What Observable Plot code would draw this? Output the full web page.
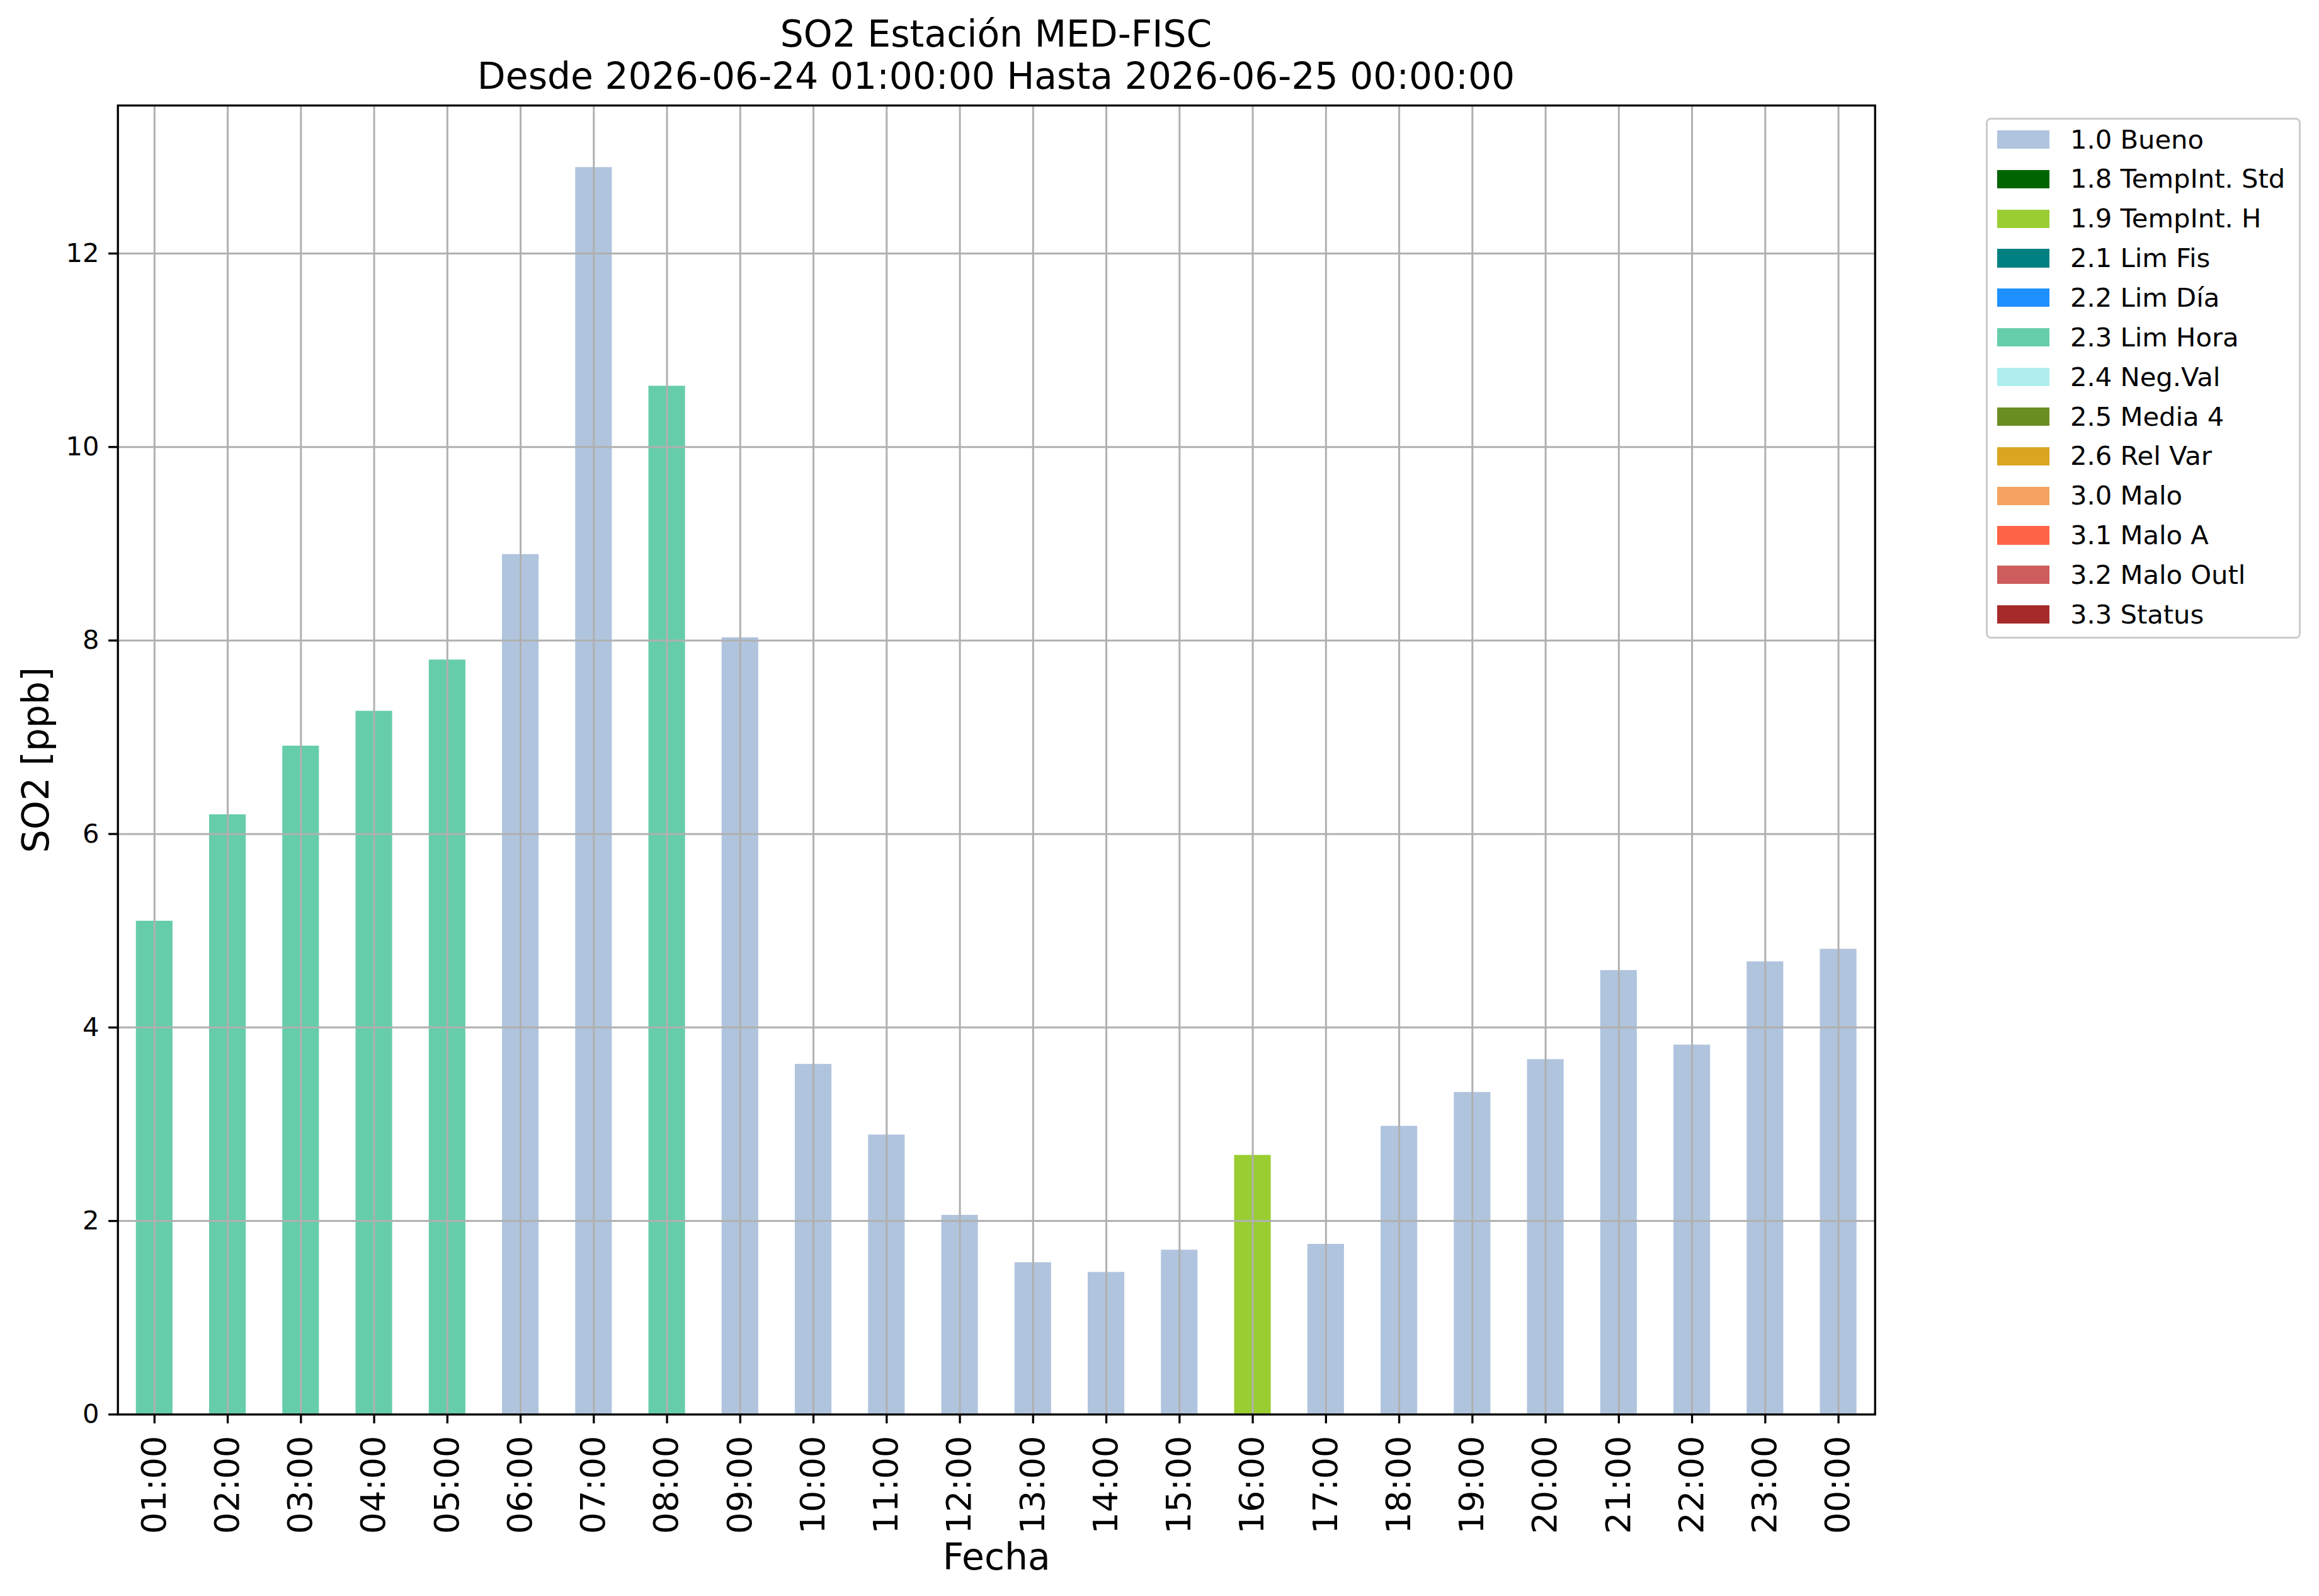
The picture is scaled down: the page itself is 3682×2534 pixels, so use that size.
<!DOCTYPE html>
<html><head><meta charset="utf-8">
<script src="https://cdn.jsdelivr.net/npm/d3@7"></script>
<script src="https://cdn.jsdelivr.net/npm/@observablehq/plot@0.6"></script>
<style>
html,body{margin:0;padding:0;background:#fff;}
#wrap{position:relative;width:3682px;height:2534px;background:#fff;font-family:"DejaVu Sans";overflow:hidden}
#title{height:160px;width:3163px;box-sizing:border-box;padding-top:21px;text-align:center;font-size:58.33px;line-height:67px;color:#000;white-space:nowrap}
#legend{position:absolute;left:3153px;top:187px;width:500px;height:827px;box-sizing:border-box;border:3.3px solid #cccccc;border-radius:8px;background:#fff;}
.sw{position:absolute;left:14.5px;width:83.3px;height:29.2px}
.lb{position:absolute;left:131px;font-size:41.67px;line-height:41.67px;white-space:nowrap;color:#000}
#chart svg{display:block}
</style></head><body>
<div id="wrap"><div id="title"></div><div id="chart"></div><div id="legend"></div></div>
<script>
const titleLines = ["SO2 Estación MED-FISC", "Desde 2026-06-24 01:00:00 Hasta 2026-06-25 00:00:00"];
const xLabel = "Fecha";
const yLabel = "SO2 [ppb]";
const hours = ["01:00","02:00","03:00","04:00","05:00","06:00","07:00","08:00","09:00","10:00","11:00","12:00",
               "13:00","14:00","15:00","16:00","17:00","18:00","19:00","20:00","21:00","22:00","23:00","00:00"];
const so2 = [5.10, 6.20, 6.91, 7.27, 7.80, 8.89, 12.89, 10.63, 8.03, 3.62, 2.89, 2.06,
             1.57, 1.47, 1.70, 2.68, 1.76, 2.98, 3.33, 3.67, 4.59, 3.82, 4.68, 4.81];
const hourFlags = ["2.3 Lim Hora","2.3 Lim Hora","2.3 Lim Hora","2.3 Lim Hora","2.3 Lim Hora","1.0 Bueno",
                   "1.0 Bueno","2.3 Lim Hora","1.0 Bueno","1.0 Bueno","1.0 Bueno","1.0 Bueno",
                   "1.0 Bueno","1.0 Bueno","1.0 Bueno","1.9 TempInt. H","1.0 Bueno","1.0 Bueno",
                   "1.0 Bueno","1.0 Bueno","1.0 Bueno","1.0 Bueno","1.0 Bueno","1.0 Bueno"];
const flagLabels = ["1.0 Bueno","1.8 TempInt. Std","1.9 TempInt. H","2.1 Lim Fis","2.2 Lim Día","2.3 Lim Hora",
                    "2.4 Neg.Val","2.5 Media 4","2.6 Rel Var","3.0 Malo","3.1 Malo A","3.2 Malo Outl","3.3 Status"];
const flagColors = ["#b0c4de","#006400","#9acd32","#008080","#1e90ff","#66cdaa",
                    "#afeeee","#6b8e23","#daa520","#f4a460","#ff6347","#cd5c5c","#a52a2a"];
const yTicks = [0, 2, 4, 6, 8, 10, 12];
const yMax = 13.53;

const data = hours.map((h, i) => ({hour: h, value: so2[i], flag: hourFlags[i]}));

document.getElementById("title").innerHTML = titleLines.join("<br>");

const grid = "#b0b0b0";
const chart = Plot.plot({
  width: 3682,
  height: 2374,
  marginTop: 7,
  marginLeft: 186.7,
  marginRight: 705.3,
  marginBottom: 288.7,
  style: {fontFamily: "DejaVu Sans", fontSize: "41.67px", background: "white", color: "black"},
  x: {type: "band", domain: hours, paddingInner: 0.5, paddingOuter: 0.25, align: 0.5, round: false},
  y: {domain: [0, yMax]},
  color: {domain: flagLabels, range: flagColors},
  marks: [
    Plot.barY(data, {x: "hour", y: "value", fill: "flag"}),
    Plot.ruleX(hours, {x: d => d, stroke: grid, strokeWidth: 3.0}),
    Plot.ruleY(yTicks, {y: d => d, stroke: grid, strokeWidth: 3.0}),
    Plot.frame({stroke: "black", strokeWidth: 3.3}),
    Plot.axisX({tickRotate: -90, fontSize: 54.2, tickSize: 14.6, tickPadding: 19, strokeWidth: 3.3, label: null}),
    Plot.axisY({ticks: yTicks, tickSize: 14.6, tickPadding: 15, fontSize: 41.67, strokeWidth: 3.3, label: null}),
    Plot.text([xLabel], {frameAnchor: "bottom", lineAnchor: "bottom", dy: 245.7, fontSize: 58.33, fill: "black"}),
    Plot.text([yLabel], {frameAnchor: "left", rotate: -90, lineAnchor: "bottom", textAnchor: "middle", dx: -110.7, fontSize: 58.33, fill: "black"})
  ]
});
document.getElementById("chart").appendChild(chart);

const legend = document.getElementById("legend");
flagLabels.forEach((lab, i) => {
  const sw = document.createElement("div");
  sw.className = "sw";
  sw.style.top = (16.8 + i * 62.86) + "px";
  sw.style.background = flagColors[i];
  legend.appendChild(sw);
  const t = document.createElement("div");
  t.className = "lb";
  t.style.top = (10.5 + i * 62.86) + "px";
  t.textContent = lab;
  legend.appendChild(t);
});
</script>
</body></html>
